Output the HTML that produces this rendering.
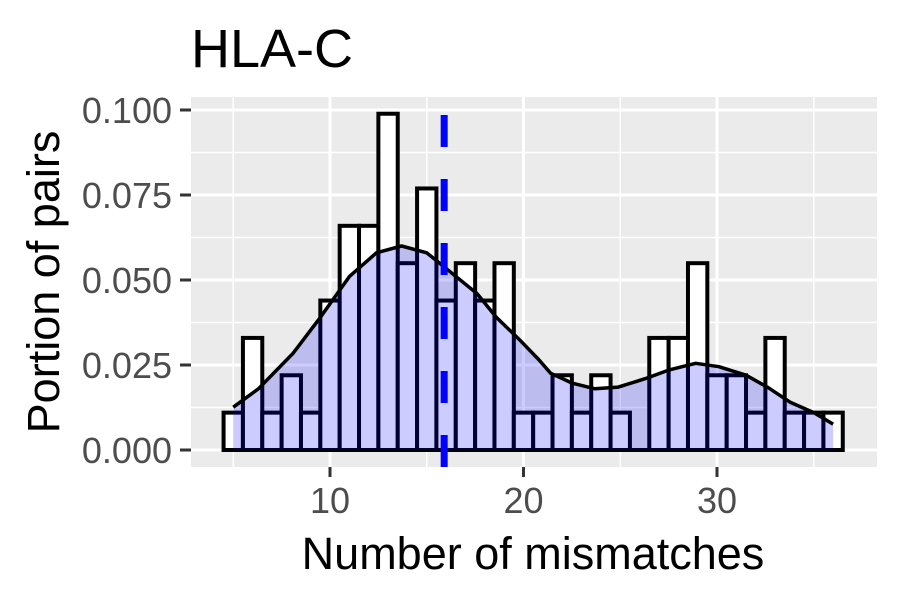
<!DOCTYPE html>
<html><head><meta charset="utf-8"><style>
body{margin:0;background:#fff;}
svg text{font-family:"Liberation Sans",Arial,sans-serif;}
</style></head><body>
<svg id="chart" width="900" height="600" xmlns="http://www.w3.org/2000/svg">
<rect x="0" y="0" width="900" height="600" fill="#fff"/>
<rect x="191" y="97" width="686" height="370" fill="#ebebeb"/>
<g id="grid"></g>
<g id="bars"></g>
<g id="dens"></g>
<g id="axes"></g>
<text x="191" y="67" style="font-size:54px" fill="#000">HLA-C</text>
<text x="533" y="569" style="font-size:45px" text-anchor="middle" fill="#000">Number of mismatches</text>
<text transform="translate(59,282) rotate(-90)" style="font-size:45px" text-anchor="middle" fill="#000">Portion of pairs</text>
</svg>
<script>
const binCenters=[5,6,7,8,9,10,11,12,13,14,15,16,17,18,19,20,21,22,23,24,25,26,27,28,29,30,31,32,33,34,35,36];
const binCounts=[1,3,1,2,1,4,6,6,9,5,7,4,5,4,5,1,1,2,1,2,1,0,3,3,5,2,2,1,3,1,1,1];
const totalPairs=91;
const densX=[5,6.3,8.1,9.5,11,12.4,13.7,15,16.3,17.6,18.6,19.8,20.8,21.4,22.5,23.7,24.9,26.3,27.5,28.9,30.1,31.5,32.6,33.8,35,36];
const densY=[0.0126,0.018,0.0285,0.039,0.051,0.058,0.060,0.058,0.052,0.046,0.039,0.0324,0.0265,0.0226,0.0197,0.018,0.0185,0.021,0.0235,0.0255,0.0245,0.022,0.0185,0.014,0.011,0.0076];
const meanValue=15.9;
const yTicks=[0,0.025,0.05,0.075,0.1];
const yTickLabels=["0.000","0.025","0.050","0.075","0.100"];
const xTicks=[10,20,30];
const xTickLabels=["10","20","30"];

const NS="http://www.w3.org/2000/svg";
const X=v=>330+(v-10)*19.35;
const Y=v=>450-v*3400;
const PL=191,PR=877,PT=97,PB=467;
function mk(tag,attrs,parent){const e=document.createElementNS(NS,tag);for(const k in attrs)e.setAttribute(k,attrs[k]);parent.appendChild(e);return e;}
const grid=document.getElementById('grid');
[5,15,25,35].forEach(v=>{const l=mk('line',{x1:X(v),x2:X(v),y1:PT,y2:PB,stroke:'#fff','stroke-width':1.5},grid);

});
[0.0125,0.0375,0.0625,0.0875].forEach(v=>{const l=mk('line',{x1:PL,x2:PR,y1:Y(v),y2:Y(v),stroke:'#fff','stroke-width':1.5},grid);

});
xTicks.forEach(v=>{const l=mk('line',{x1:X(v),x2:X(v),y1:PT,y2:PB,stroke:'#fff','stroke-width':3},grid);

});
yTicks.forEach(v=>{const l=mk('line',{x1:PL,x2:PR,y1:Y(v),y2:Y(v),stroke:'#fff','stroke-width':3},grid);

});
const bars=document.getElementById('bars');
binCenters.forEach((c,i)=>{const v=binCounts[i]/totalPairs;if(v<=0)return;
const r=mk('rect',{x:X(c-0.5),y:Y(v),width:X(c+0.5)-X(c-0.5),height:Y(0)-Y(v),fill:'#fff',stroke:'#000','stroke-width':4},bars);

});
const bl=mk('line',{x1:X(4.5),x2:X(36.5),y1:Y(0),y2:Y(0),stroke:'#000','stroke-width':4},bars);


const dens=document.getElementById('dens');
let pts=densX.map((x,i)=>X(x)+','+Y(densY[i]));
const area=mk('polygon',{points:X(densX[0])+','+Y(0)+' '+pts.join(' ')+' '+X(densX[densX.length-1])+','+Y(0),fill:'rgba(0,0,255,0.2)'},dens);


const ln=mk('polyline',{points:pts.join(' '),fill:'none',stroke:'#000','stroke-width':3.5,'stroke-linejoin':'round'},dens);


const ml=mk('line',{x1:X(meanValue),x2:X(meanValue),y1:115,y2:PB,stroke:'#0000ff','stroke-width':7,'stroke-dasharray':'32 32'},dens);


const axes=document.getElementById('axes');
yTicks.forEach((v,i)=>{const t=mk('line',{x1:180,x2:191,y1:Y(v),y2:Y(v),stroke:'#333','stroke-width':3},axes);


const tx=mk('text',{x:172,y:Y(v)+13,'text-anchor':'end',fill:'#4d4d4d',style:'font-size:36px'},axes);tx.textContent=yTickLabels[i];

});
xTicks.forEach((v,i)=>{const t=mk('line',{x1:X(v),x2:X(v),y1:PB,y2:PB+10,stroke:'#333','stroke-width':3},axes);


const tx=mk('text',{x:X(v),y:513,'text-anchor':'middle',fill:'#4d4d4d',style:'font-size:36px'},axes);tx.textContent=xTickLabels[i];

});
</script>
</body></html>
